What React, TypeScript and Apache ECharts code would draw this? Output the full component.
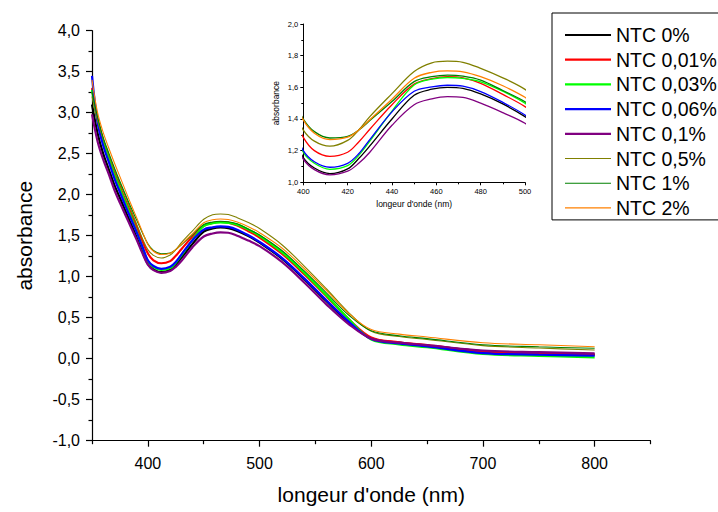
import React, { useEffect, useRef } from 'react';
import * as echarts from 'echarts';

const wavelengths = [350, 355, 360, 365, 370, 375, 380, 385, 390, 395, 400, 405, 412, 420, 425, 430, 440, 450, 458, 465, 472, 480, 490, 500, 520, 540, 560, 580, 600, 625, 650, 700, 750, 800];

const ntc0 = [3.10, 2.75, 2.50, 2.31, 2.12, 1.96, 1.80, 1.64, 1.48, 1.31, 1.156, 1.09, 1.055, 1.085, 1.15, 1.23, 1.40, 1.55, 1.588, 1.60, 1.593, 1.558, 1.495, 1.415, 1.22, 0.97, 0.70, 0.44, 0.25, 0.195, 0.16, 0.09, 0.065, 0.05];
const ntc001 = [3.30, 2.92, 2.66, 2.46, 2.27, 2.10, 1.93, 1.77, 1.61, 1.44, 1.284, 1.20, 1.164, 1.19, 1.255, 1.335, 1.49, 1.62, 1.655, 1.667, 1.66, 1.625, 1.555, 1.478, 1.28, 1.03, 0.76, 0.48, 0.26, 0.20, 0.165, 0.09, 0.065, 0.05];
const ntc003 = [3.28, 2.90, 2.64, 2.44, 2.24, 2.07, 1.90, 1.73, 1.55, 1.37, 1.19, 1.12, 1.082, 1.105, 1.17, 1.26, 1.45, 1.615, 1.652, 1.662, 1.656, 1.635, 1.575, 1.499, 1.30, 1.05, 0.77, 0.48, 0.235, 0.175, 0.14, 0.057, 0.035, 0.017];
const ntc006 = [3.45, 2.88, 2.60, 2.40, 2.20, 2.03, 1.86, 1.70, 1.54, 1.37, 1.20, 1.13, 1.095, 1.12, 1.18, 1.27, 1.445, 1.575, 1.603, 1.613, 1.607, 1.573, 1.505, 1.425, 1.23, 0.98, 0.71, 0.45, 0.24, 0.185, 0.15, 0.068, 0.05, 0.037];
const ntc01 = [2.98, 2.65, 2.43, 2.25, 2.06, 1.90, 1.75, 1.60, 1.45, 1.29, 1.147, 1.08, 1.047, 1.07, 1.12, 1.19, 1.36, 1.49, 1.527, 1.541, 1.536, 1.50, 1.44, 1.373, 1.18, 0.93, 0.66, 0.42, 0.245, 0.195, 0.165, 0.10, 0.08, 0.066];
const ntc05 = [3.20, 2.90, 2.68, 2.49, 2.31, 2.14, 1.98, 1.81, 1.64, 1.47, 1.33, 1.26, 1.228, 1.265, 1.33, 1.415, 1.56, 1.70, 1.755, 1.765, 1.758, 1.72, 1.66, 1.587, 1.39, 1.13, 0.85, 0.56, 0.335, 0.27, 0.235, 0.16, 0.13, 0.106];
const ntc1 = [3.25, 2.95, 2.70, 2.51, 2.33, 2.16, 2.00, 1.84, 1.69, 1.54, 1.40, 1.32, 1.28, 1.29, 1.33, 1.39, 1.51, 1.636, 1.667, 1.677, 1.671, 1.646, 1.58, 1.509, 1.32, 1.07, 0.80, 0.53, 0.34, 0.28, 0.245, 0.17, 0.145, 0.127];
const ntc2 = [3.40, 3.00, 2.76, 2.57, 2.39, 2.22, 2.05, 1.88, 1.72, 1.55, 1.394, 1.31, 1.27, 1.285, 1.33, 1.395, 1.525, 1.657, 1.695, 1.704, 1.698, 1.667, 1.61, 1.537, 1.35, 1.10, 0.83, 0.55, 0.355, 0.30, 0.265, 0.195, 0.17, 0.146];

const seriesNames = ['NTC 0%', 'NTC 0,01%', 'NTC 0,03%', 'NTC 0,06%', 'NTC 0,1%', 'NTC 0,5%', 'NTC 1%', 'NTC 2%'];
const seriesValues = [ntc0, ntc001, ntc003, ntc006, ntc01, ntc05, ntc1, ntc2];
const seriesColors = ['#000000', '#FF0000', '#00FF00', '#0000FF', '#800080', '#808000', '#008000', '#FF8000'];
const seriesWidths = [2.2, 2.2, 2.2, 2.2, 2.2, 1.1, 1.1, 1.1];

const xLabelValues = [400, 500, 600, 700, 800];
const xMinorValues = [350, 450, 550, 650, 750, 850];

const fontFamily = '"Liberation Sans", Arial, Helvetica, sans-serif';
const fmt = (v: number) => v.toFixed(1).replace('.', ',');

export default function App() {
  const ref = useRef<HTMLDivElement>(null);

  useEffect(() => {
    if (!ref.current) return;
    const chart = echarts.init(ref.current, undefined, { renderer: 'svg' });
    const black = '#000';

    const mainSeries = seriesNames.map((name, i) => ({
      type: 'line',
      name,
      xAxisIndex: 0,
      yAxisIndex: 0,
      data: wavelengths.map((w, j) => [w, seriesValues[i][j]]),
      symbol: 'none',
      showSymbol: false,
      smooth: 0.35,
      lineStyle: { color: seriesColors[i], width: seriesWidths[i] },
      itemStyle: { color: seriesColors[i] },
      silent: true,
    }));

    const insetSeries = seriesNames.map((name, i) => ({
      type: 'line',
      name,
      xAxisIndex: 2,
      yAxisIndex: 1,
      data: wavelengths.map((w, j) => [w, seriesValues[i][j]]),
      symbol: 'none',
      showSymbol: false,
      smooth: 0.35,
      clip: true,
      lineStyle: { color: seriesColors[i], width: 1.3 },
      itemStyle: { color: seriesColors[i] },
      silent: true,
    }));

    const legendData = seriesNames.map((name, i) => ({
      name,
      icon: `path://M0,0H46V${seriesWidths[i]}H0Z`,
      itemStyle: { color: seriesColors[i] },
    }));

    chart.setOption({
      animation: false,
      backgroundColor: '#fff',
      textStyle: { fontFamily },
      grid: [
        { left: 92, top: 30.7, width: 558.5, height: 410, containLabel: false },
        { left: 303.3, top: 24, width: 221.7, height: 158.3, containLabel: false },
      ],
      legend: {
        data: legendData,
        orient: 'vertical',
        left: 552,
        top: 13,
        itemWidth: 46,
        itemHeight: 14,
        itemGap: 4.7,
        symbolKeepAspect: true,
        padding: [12, 24, 2, 13],
        borderColor: black,
        borderWidth: 1,
        borderRadius: 0,
        backgroundColor: '#fff',
        selectedMode: false,
        textStyle: { fontSize: 19.5, color: black, fontFamily, lineHeight: 20 },
      },
      xAxis: [
        {
          type: 'value',
          gridIndex: 0,
          position: 'bottom',
          min: 350,
          max: 850,
          name: "longeur d'onde (nm)",
          nameLocation: 'middle',
          nameGap: 43,
          nameTextStyle: { fontSize: 21, color: black, fontFamily },
          axisLine: { show: true, onZero: false, lineStyle: { color: black, width: 1.2 } },
          axisTick: { show: true, inside: false, length: 6, customValues: xLabelValues, lineStyle: { color: black, width: 1.2 } },
          axisLabel: { show: true, customValues: xLabelValues, fontSize: 16, color: black, margin: 15, fontFamily },
          splitLine: { show: false },
        },
        {
          type: 'value',
          gridIndex: 0,
          position: 'bottom',
          min: 350,
          max: 850,
          axisLine: { show: false, onZero: false },
          axisTick: { show: true, inside: false, length: 3.5, customValues: xMinorValues, lineStyle: { color: black, width: 1.2 } },
          axisLabel: { show: false },
          splitLine: { show: false },
        },
        {
          type: 'value',
          gridIndex: 1,
          position: 'bottom',
          min: 400,
          max: 500,
          interval: 20,
          name: "longeur d'onde (nm)",
          nameLocation: 'middle',
          nameGap: 17,
          nameTextStyle: { fontSize: 8.5, color: black, fontFamily },
          axisLine: { show: true, onZero: false, lineStyle: { color: black, width: 1 } },
          axisTick: { show: true, inside: false, length: 3, lineStyle: { color: black, width: 1 } },
          minorTick: { show: true, splitNumber: 2, length: 2, lineStyle: { color: black, width: 1 } },
          axisLabel: { fontSize: 7.5, color: black, margin: 5, fontFamily },
          splitLine: { show: false },
        },
      ],
      yAxis: [
        {
          type: 'value',
          gridIndex: 0,
          min: -1,
          max: 4,
          interval: 0.5,
          name: 'absorbance',
          nameLocation: 'middle',
          nameGap: 57,
          nameTextStyle: { fontSize: 21, color: black, fontFamily },
          axisLine: { show: true, onZero: false, lineStyle: { color: black, width: 1.2 } },
          axisTick: { show: true, inside: false, length: 6, lineStyle: { color: black, width: 1.2 } },
          minorTick: { show: true, splitNumber: 2, length: 3.5, lineStyle: { color: black, width: 1.2 } },
          axisLabel: { fontSize: 16, color: black, margin: 12, formatter: fmt, fontFamily },
          splitLine: { show: false },
        },
        {
          type: 'value',
          gridIndex: 1,
          min: 1,
          max: 2,
          interval: 0.2,
          name: 'absorbance',
          nameLocation: 'middle',
          nameGap: 23,
          nameTextStyle: { fontSize: 8.5, color: black, fontFamily },
          axisLine: { show: true, onZero: false, lineStyle: { color: black, width: 1 } },
          axisTick: { show: true, inside: false, length: 3, lineStyle: { color: black, width: 1 } },
          minorTick: { show: true, splitNumber: 2, length: 2, lineStyle: { color: black, width: 1 } },
          axisLabel: { fontSize: 7.5, color: black, margin: 5, formatter: fmt, fontFamily },
          splitLine: { show: false },
        },
      ],
      series: [...mainSeries, ...insetSeries],
    });

    return () => chart.dispose();
  }, []);

  return (
    <div
      ref={ref}
      style={{ position: 'fixed', left: 0, top: 0, width: 718, height: 512, background: '#fff' }}
    />
  );
}
